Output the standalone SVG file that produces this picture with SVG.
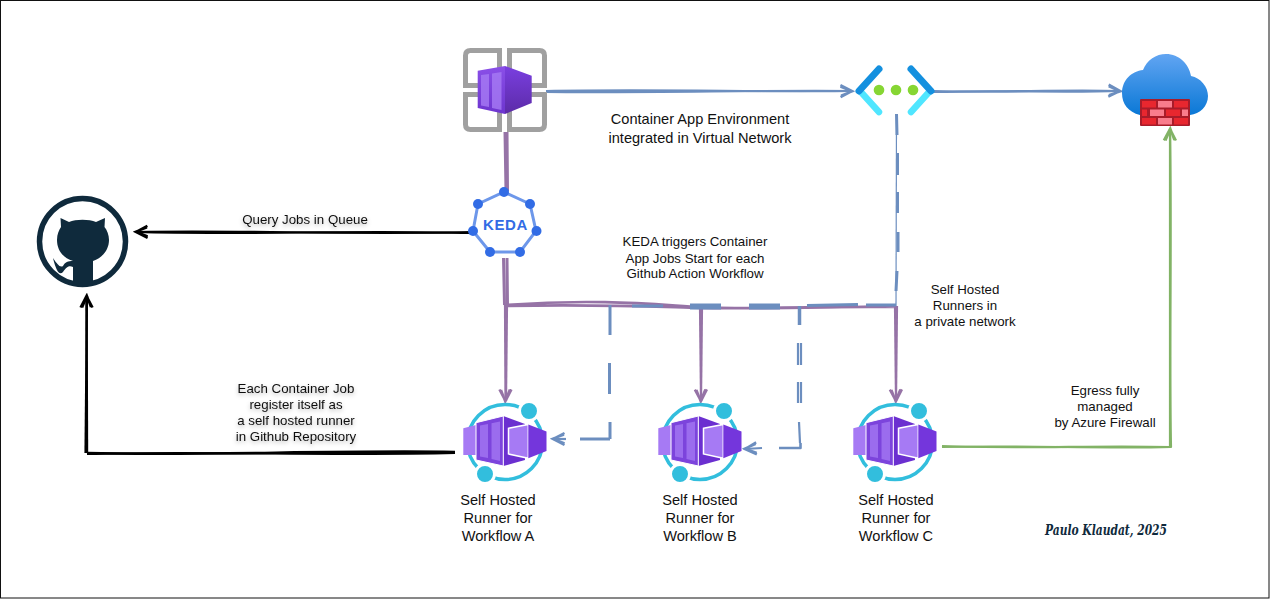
<svg xmlns="http://www.w3.org/2000/svg" xmlns:xlink="http://www.w3.org/1999/xlink" width="1270" height="600" viewBox="0 0 1270 600">
<style>
.l{font-family:"Liberation Sans",Arial,sans-serif;font-size:13.3px;fill:#111;text-anchor:middle}
.m{font-size:14.6px}
.s{filter:url(#sh)}
.c{fill:none;stroke-linecap:butt;stroke-linejoin:round}
.b{stroke:#6c8ebf;stroke-width:2.2}
.p{stroke:#9673a6;stroke-width:2.2}
.g{stroke:#82b366;stroke-width:2.2}
.k{stroke:#000;stroke-width:2.2}
</style>
<defs>
<filter id="sh" x="-10%" y="-30%" width="120%" height="170%"><feDropShadow dx="0" dy="2" stdDeviation="2" flood-color="#000" flood-opacity=".3"/></filter>
<marker id="ab" markerUnits="userSpaceOnUse" markerWidth="16" markerHeight="16" refX="13" refY="8" orient="auto"><path d="M1.500 2L13 8L1.500 14M1.500 3.500L13 8.400L2 12.500" fill="none" stroke="#6c8ebf" stroke-width="2.500"/></marker>
<marker id="ap" markerUnits="userSpaceOnUse" markerWidth="16" markerHeight="16" refX="13" refY="8" orient="auto"><path d="M1.500 2L13 8L1.500 14M1.500 3.500L13 8.400L2 12.500" fill="none" stroke="#9673a6" stroke-width="2.500"/></marker>
<marker id="ag" markerUnits="userSpaceOnUse" markerWidth="16" markerHeight="16" refX="13" refY="8" orient="auto"><path d="M1.500 2L13 8L1.500 14M1.500 3.500L13 8.400L2 12.500" fill="none" stroke="#82b366" stroke-width="2.500"/></marker>
<marker id="ak" markerUnits="userSpaceOnUse" markerWidth="16" markerHeight="16" refX="13" refY="8" orient="auto"><path d="M1.500 2L13 8L1.500 14M1.500 3.500L13 8.400L2 12.500" fill="none" stroke="#000" stroke-width="2.500"/></marker>
<linearGradient id="cubeR" x1="0" y1="0" x2="0" y2="1"><stop offset="0" stop-color="#7a3fe0"/><stop offset="1" stop-color="#5c2ba8"/></linearGradient>
<linearGradient id="cubeF" x1="0" y1="0" x2="0" y2="1"><stop offset="0" stop-color="#8a4fe8"/><stop offset="1" stop-color="#6d35cf"/></linearGradient>
<linearGradient id="cl" x1="0" y1="0" x2="0" y2="1"><stop offset="0" stop-color="#62a5f2"/><stop offset="1" stop-color="#0a78d6"/></linearGradient>
<g id="runner">
<circle cx="505" cy="442" r="37.500" fill="none" stroke="#32bedd" stroke-width="3.500"/>
<circle cx="529" cy="411" r="9.500" fill="#32bedd" stroke="#fff" stroke-width="3"/>
<circle cx="485" cy="474" r="9.500" fill="#32bedd" stroke="#fff" stroke-width="3"/>
<path d="M463.300 428.300L476 425V455H463.300Z" fill="#a67af4"/>
<path d="M503.300 416L525 424V460L503.300 466Z" fill="#6b2fd0"/>
<path d="M476 422.700L503.300 416V466L476 460Z" fill="#7c44dc" stroke="#fff" stroke-width="1"/>
<path d="M480 425.500L488 424V458L480 456.500ZM491.500 423.300L500 421.500V461L491.500 459Z" fill="#a67af4" opacity=".75"/>
<path d="M508.500 428.300L528.300 424.500V458.300L508.500 454Z" fill="#a67af4" stroke="#fff" stroke-width="1.500"/>
<path d="M528.300 424.500L546.500 431.500V451L528.300 458.300Z" fill="#7436dc"/>
</g>
</defs>
<rect x="0.500" y="0.500" width="1268.500" height="597.500" fill="#fff" stroke="#111" stroke-width="1"/>

<g id="connectors">
<path class="c b" marker-end="url(#ab)" d="M546 91C650 89 760 92 852 91"/>
<path class="c b" d="M546 92C660 93 760 90 852 91"/>
<path class="c b" marker-end="url(#ab)" d="M934 91C1000 93 1060 89 1120 91"/>
<path class="c b" d="M934 92C1000 90 1060 93 1120 91"/>
<path class="c p" style="stroke-width:3" d="M505 132L506 191M507 132L507.500 191"/>
<path class="c k" marker-end="url(#ak)" d="M471 232C350 235 250 230 136 232"/>
<path class="c k" d="M471 233C350 230 250 235 136 232"/>
<path class="c p" style="stroke-width:3" d="M503.500 258L504.500 305M507 258L507.500 305"/>
<path class="c p" marker-end="url(#ap)" d="M505 305L505.500 401"/>
<path class="c p" d="M507 305L506 401"/>
<path class="c p" style="stroke-width:2.600" d="M506 305C600 298 660 305 700 307S830 308 895 306M506 306C600 304 660 307 700 308S830 306 895 307"/>
<path class="c p" marker-end="url(#ap)" d="M700 307L701 401"/>
<path class="c p" d="M702 307L701 401"/>
<path class="c p" marker-end="url(#ap)" d="M895 306L896 401"/>
<path class="c p" d="M897 306L896 401"/>
<path class="c b" style="stroke-width:1.200" d="M896.500 114L896 306"/>
<path class="c b" style="stroke-width:3" d="M896.500 114L897 135M897.500 153V175M897.500 192V213M898 232V252M897 271L896 291M896 305H866M858 304.500L807 305.500M780 305H749M780 308H749M721 305H690M721 308H690M663 306H632"/>
<path class="c b" style="stroke-width:3" d="M610 305V335M609.500 363V394M610 422V439"/>
<path class="c b" style="stroke-width:3" d="M610 439H580"/>
<path class="c b" marker-end="url(#ab)" d="M566 439L553 439"/>
<path class="c b" style="stroke-width:3.500" d="M799.500 306V325"/>
<path class="c b" d="M798 343V365M801 343V365M798 382V403M801 382V403M799 422L800 443"/>
<path class="c b" style="stroke-width:2.600" d="M800.500 443V448L779 448"/>
<path class="c b" marker-end="url(#ab)" d="M762 448L745 449"/>
<path class="c g" marker-end="url(#ag)" d="M942 446C1020 449 1100 445 1170 447C1171 350 1169 240 1170 129"/>
<path class="c g" d="M942 447C1020 445 1100 449 1171 447C1169 350 1172 240 1170 129"/>
<path class="c k" style="stroke-width:2.600" d="M455 452C330 450 200 456 87 453"/>
<path class="c k" d="M455 453C330 456 200 451 87 454"/>
<path class="c k" style="stroke-width:2.400" marker-end="url(#ak)" d="M87 453L86.500 296"/>
<path class="c k" d="M85.500 453L87 296"/>
</g>

<g id="container-env">
<g fill="none" stroke="#a0a0a0" stroke-width="5">
<path d="M465.500 85.500V55.500Q465.500 50.500 470.500 50.500H499.500V85.500Z"/>
<path d="M509.500 50.500H539.500Q544.500 50.500 544.500 55.500V85.500H509.500Z"/>
<path d="M465.500 94.500H499.500V129.500H470.500Q465.500 129.500 465.500 124.500Z"/>
<path d="M509.500 94.500H544.500V124.500Q544.500 129.500 539.500 129.500H509.500Z"/>
</g>
<path d="M477.700 70.700L505 66V114L477.700 108Z" fill="url(#cubeF)"/>
<path d="M505 66L531.700 75.700V103L505 114Z" fill="url(#cubeR)"/>
<path d="M481 75L489 74V107L481 105.500ZM492 73.500L501.500 72V110L492 108Z" fill="#a67af4" opacity=".8"/>
</g>

<g id="vnet">
<path d="M860 91L879 112" stroke="#50e6ff" stroke-width="6.500" stroke-linecap="round" fill="none"/>
<path d="M930 91L911 112" stroke="#50e6ff" stroke-width="6.500" stroke-linecap="round" fill="none"/>
<path d="M879 69L859 91" stroke="#1490df" stroke-width="7" stroke-linecap="round" fill="none"/>
<path d="M911 69L931 91" stroke="#1490df" stroke-width="7" stroke-linecap="round" fill="none"/>
<circle cx="879" cy="90" r="5.300" fill="#86d633"/>
<circle cx="896" cy="90" r="5.300" fill="#86d633"/>
<circle cx="913" cy="90" r="5.300" fill="#86d633"/>
</g>

<g id="firewall">
<path d="M1140 115C1128 112 1122 104 1122 93C1122 80 1132 71 1143 70C1147 60 1156 54 1166 54C1179 54 1189 64 1191 76C1201 78 1208 87 1208 96C1208 106 1200 114 1190 115Z" fill="url(#cl)"/>
<rect x="1140" y="99" width="50" height="27" rx="1" fill="#a81c2a"/>
<g fill="#e8272f">
<rect x="1142" y="101" width="14" height="6.500"/><rect x="1174" y="101" width="14" height="6.500"/>
<rect x="1142" y="109.500" width="5" height="6.500"/><rect x="1166" y="109.500" width="14" height="6.500"/>
<rect x="1142" y="118" width="14" height="6.500"/><rect x="1174" y="118" width="14" height="6.500"/>
</g>
<g fill="#f97c8c">
<rect x="1158" y="101" width="14" height="6.500"/>
<rect x="1150" y="109.500" width="14" height="6.500"/><rect x="1182" y="109.500" width="6" height="6.500"/>
<rect x="1158" y="118" width="14" height="6.500"/>
</g>
</g>

<g id="keda">
<path d="M504 192L530 204L536 231L520 252H490L473 231L478 204Z" fill="#fff" stroke="#6d97ea" stroke-width="3"/>
<g fill="#326ce5">
<circle cx="504" cy="192" r="5"/><circle cx="530" cy="204" r="5"/><circle cx="536.500" cy="231" r="5"/><circle cx="520" cy="252" r="5"/><circle cx="490" cy="252" r="5"/><circle cx="473" cy="231" r="5"/><circle cx="478" cy="204" r="5"/>
</g>
<text x="505.500" y="229.500" style="font-family:'Liberation Sans',Arial,sans-serif;font-size:15px;font-weight:700;fill:#326ce5;text-anchor:middle;letter-spacing:.6px">KEDA</text>
</g>

<g id="github">
<circle cx="82.500" cy="241.500" r="43" fill="#fff" stroke="#0f2a3c" stroke-width="5.500"/>
<path d="M73 284V267C68 265 66 268 63 272C59 276 56 270 53 258C57 264 60 268 63 266C65 262 68 261 73 261C63 258 57 250 57 240C57 234 59 230 61 227L60.500 218L69 222C76 219 89 219 96 222L105 218L104.500 227C107 230 109 235 109 240C109 250 102 258 93 261V284Z" fill="#0f2a3c"/>
</g>

<g id="runner-a"><use xlink:href="#runner"/></g>
<g id="runner-b"><use xlink:href="#runner" x="195"/></g>
<g id="runner-c"><use xlink:href="#runner" x="390"/></g>

<g id="labels">
<text class="l m" x="700" y="124">Container App Environment</text>
<text class="l m" x="700" y="143">integrated in Virtual Network</text>
<text class="l s" x="305" y="224">Query Jobs in Queue</text>
<text class="l" x="695" y="246">KEDA triggers Container</text>
<text class="l" x="695" y="263">App Jobs Start for each</text>
<text class="l" x="695" y="278">Github Action Workflow</text>
<text class="l" x="965" y="294">Self Hosted</text>
<text class="l" x="965" y="310">Runners in</text>
<text class="l" x="965" y="326">a private network</text>
<text class="l s" x="296" y="393">Each Container Job</text>
<text class="l s" x="296" y="409">register itself as</text>
<text class="l s" x="296" y="425">a self hosted runner</text>
<text class="l s" x="296" y="441">in Github Repository</text>
<text class="l" x="1105" y="395">Egress fully</text>
<text class="l" x="1105" y="411">managed</text>
<text class="l" x="1105" y="427">by Azure Firewall</text>
<text class="l m" x="498" y="505">Self Hosted</text>
<text class="l m" x="498" y="523">Runner for</text>
<text class="l m" x="498" y="541">Workflow A</text>
<text class="l m" x="700" y="505">Self Hosted</text>
<text class="l m" x="700" y="523">Runner for</text>
<text class="l m" x="700" y="541">Workflow B</text>
<text class="l m" x="896" y="505">Self Hosted</text>
<text class="l m" x="896" y="523">Runner for</text>
<text class="l m" x="896" y="541">Workflow C</text>
<text x="1106" y="535" textLength="122" lengthAdjust="spacingAndGlyphs" style="font-family:'DejaVu Serif Condensed','Liberation Serif',serif;font-style:italic;font-weight:700;font-size:14px;fill:#0f2a3c;text-anchor:middle">Paulo Klaudat, 2025</text>
</g>
</svg>
